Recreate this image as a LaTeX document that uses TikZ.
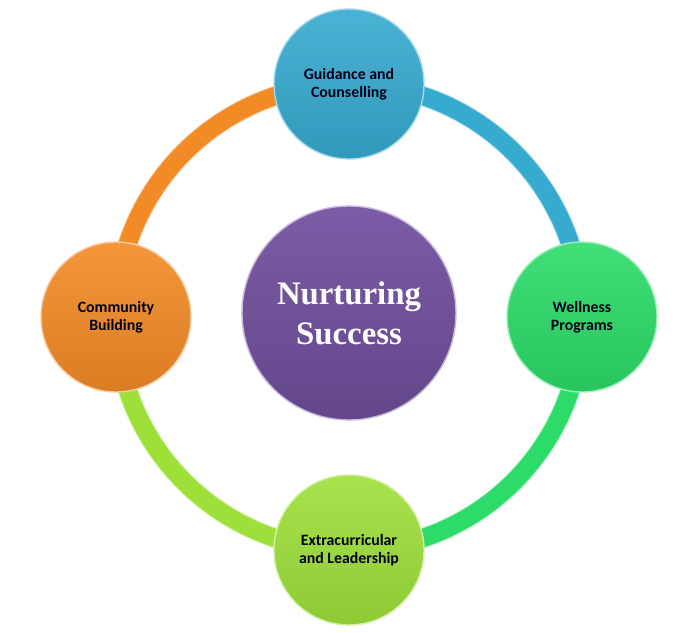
\documentclass[tikz,border=0pt]{standalone}
\usepackage{fontspec}
\setmainfont{Carlito}
\newfontfamily\titlefont{Liberation Serif}
\usetikzlibrary{backgrounds}

\definecolor{corepurple}{HTML}{7453A2}
\definecolor{guideblue}{HTML}{36AACF}
\definecolor{wellgreen}{HTML}{2CDB68}
\definecolor{extralime}{HTML}{9EE03A}
\definecolor{commorange}{HTML}{F28A26}

\begin{document}
\begin{tikzpicture}[x=0.03cm, y=-0.03cm,
    bubble/.style={circle, minimum size=4.5cm, inner sep=0pt, align=center,
      top color=#1!90!white, bottom color=#1!90!black, draw=#1!45!white, line width=1.2pt,
      text=black!90!blue, font=\bfseries\fontsize{13.5}{15.5}\selectfont},
    ringpart/.style={line width=0.54cm, draw=#1},
    ringedge/.style={line width=0.6cm, draw=#1!40!white}]
    \useasboundingbox (0,0) rectangle (692,632);

    \node[circle, minimum size=6.42cm, inner sep=0pt, align=center,
      top color=corepurple!95!white, bottom color=corepurple!85!black,
      draw=corepurple!40!white, line width=1.2pt, text=white,
      font=\titlefont\bfseries\fontsize{28}{34}\selectfont] (core) at (349,313) {Nurturing\\Success};

    \node[bubble=guideblue] (guidance) at (349,84) {Guidance and\\Counselling};
    \node[bubble=wellgreen] (wellness) at (582,317) {Wellness\\Programs};
    \node[bubble=extralime] (extra) at (349,550) {Extracurricular\\and Leadership};
    \node[bubble=commorange] (community) at (116,317) {Community\\Building};

    % ring behind the bubbles
    \begin{scope}[on background layer]
      \draw[ringedge=guideblue] (guidance.center) arc[start angle=-90, end angle=0, radius=233];
      \draw[ringedge=wellgreen] (wellness.center) arc[start angle=0, end angle=90, radius=233];
      \draw[ringedge=extralime] (extra.center) arc[start angle=90, end angle=180, radius=233];
      \draw[ringedge=commorange] (community.center) arc[start angle=180, end angle=270, radius=233];
      \draw[ringpart=guideblue] (guidance.center) arc[start angle=-90, end angle=0, radius=233];
      \draw[ringpart=wellgreen] (wellness.center) arc[start angle=0, end angle=90, radius=233];
      \draw[ringpart=extralime] (extra.center) arc[start angle=90, end angle=180, radius=233];
      \draw[ringpart=commorange] (community.center) arc[start angle=180, end angle=270, radius=233];
    \end{scope}
\end{tikzpicture}
\end{document}
